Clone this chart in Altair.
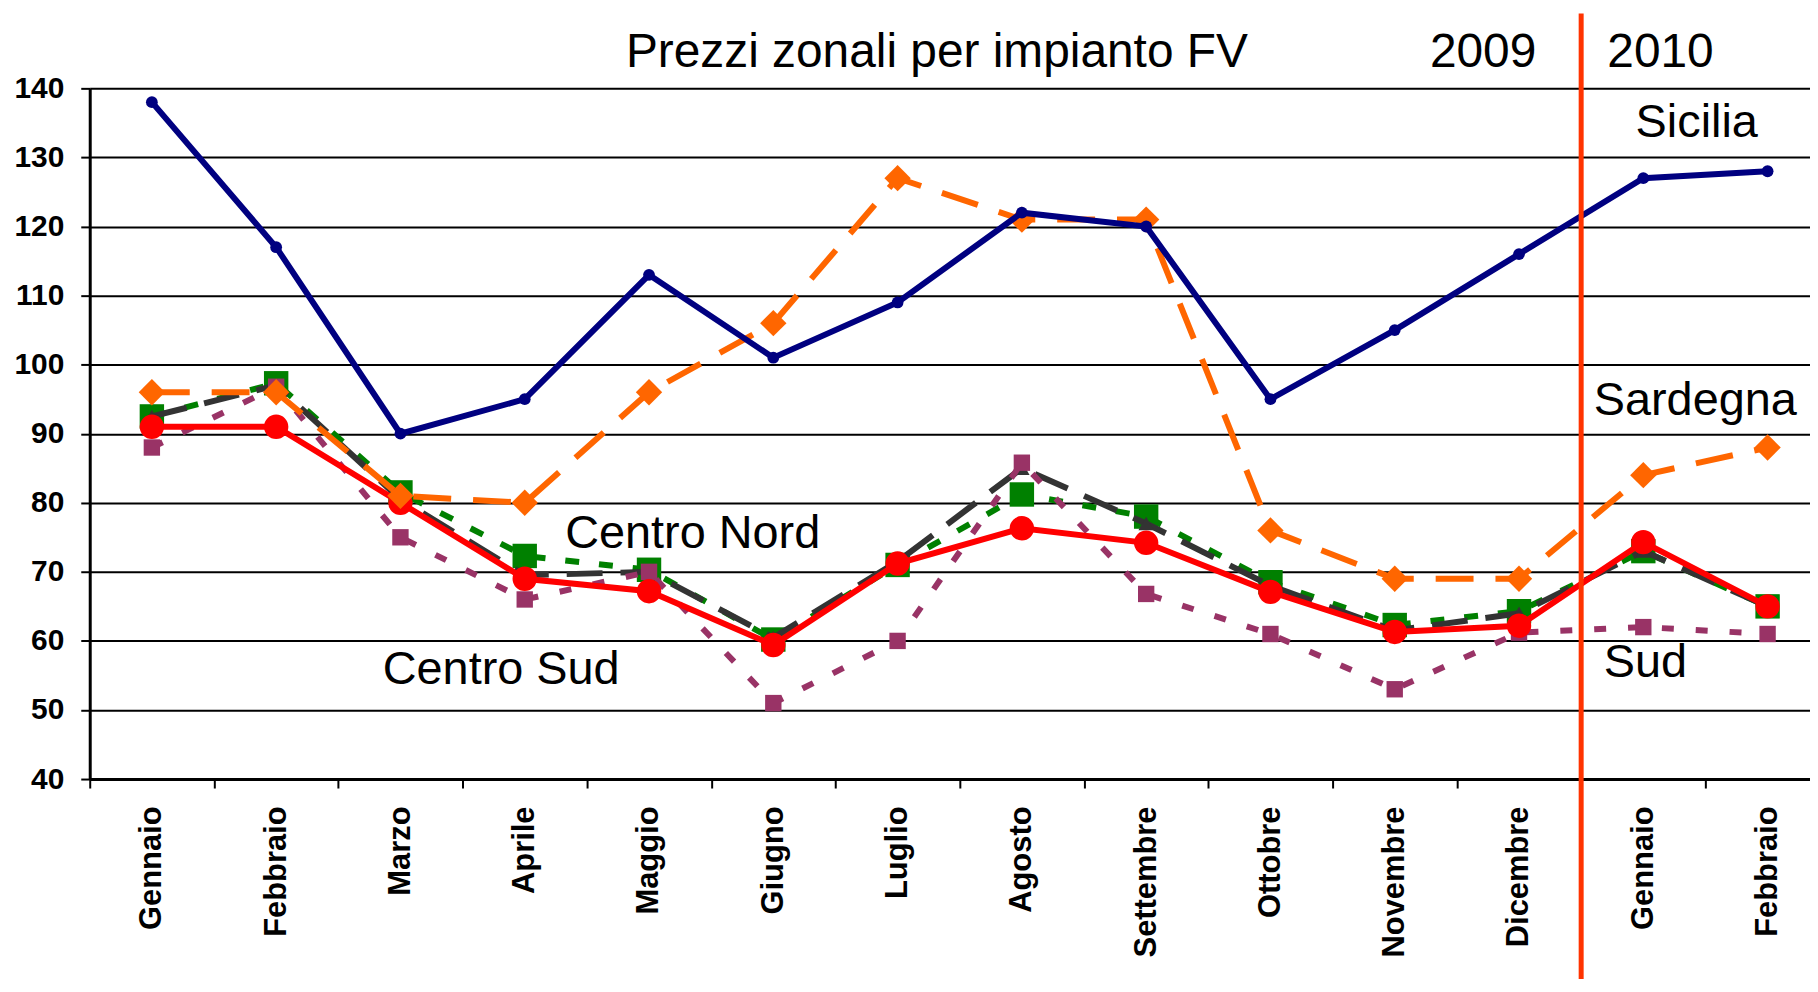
import altair as alt
import pandas as pd

# ---------------- data ----------------
months = ["Gennaio", "Febbraio", "Marzo", "Aprile", "Maggio", "Giugno", "Luglio",
          "Agosto", "Settembre", "Ottobre", "Novembre", "Dicembre", "Gennaio", "Febbraio"]
sicilia = [138, 117, 90, 95, 113, 101, 109, 122, 120, 95, 105, 116, 127, 128]
sardegna = [96, 96, 81, 80, 96, 106, 127, 121, 121, 76, 69, 69, 84, 88]
nord = [92.5, 97, 80.5, 69.5, 70, 60.5, 71.5, 85, 77, 68, 61.5, 64, 73, 65]
centro_nord = [92.5, 97.3, 81.5, 72.3, 70.3, 60.2, 71, 81.2, 78, 68.5, 62.3, 64.3, 73, 65]
sud = [88, 96.8, 75, 66, 70, 51, 60, 85.8, 66.8, 61, 53, 61.2, 62, 61]
centro_sud = [91, 91, 80, 69, 67.2, 59.4, 71.2, 76.3, 74.2, 67.1, 61.3, 62.2, 74.3, 65]
y_ticks = [40, 50, 60, 70, 80, 90, 100, 110, 120, 130, 140]
year_split = 11.5  # boundary between Dicembre 2009 and Gennaio 2010

FONT = "Liberation Sans"
W, H = 1726, 693
STEP = 124.7
x_max = -0.5 + W / STEP

xscale = alt.Scale(domain=[-0.5, x_max], nice=False, zero=False)
yscale = alt.Scale(domain=[40, 140], nice=False, zero=False)

label_expr = "[" + ",".join("'%s'" % m for m in months) + "][datum.value]"

x_axis_labels = alt.Axis(
    values=list(range(len(months))), labelExpr=label_expr, labelAngle=-90,
    labelFont=FONT, labelFontSize=31, labelFontWeight="bold", labelColor="black",
    labelPadding=27, ticks=False, tickSize=0, domain=True, domainColor="black",
    domainWidth=3, grid=False, title=None, labelFlush=False, labelOverlap=False,
    orient="bottom")
x_axis_ticks = alt.Axis(
    values=[i - 0.5 for i in range(len(months))], labels=False, ticks=True,
    tickSize=9, tickWidth=2, tickColor="black", domain=False, grid=False,
    title=None, orient="bottom")
y_axis = alt.Axis(
    values=y_ticks, format="d", labelFont=FONT, labelFontSize=30,
    labelFontWeight="bold", labelColor="black", labelPadding=17, tickSize=9,
    tickWidth=2, tickColor="black", domainColor="black", domainWidth=3,
    grid=True, gridColor="black", gridWidth=2, title=None, labelFlush=False,
    labelOverlap=False, orient="left")


def ye():
    return alt.Y("v:Q", scale=yscale, axis=y_axis)


series = [
    ("Centro Nord", centro_nord, "#008000", [14, 20], "square", 600),
    ("Nord", nord, "#333333", [36, 18], "triangle-up", 240),
    ("Sud", sud, "#993366", [12, 22], "square", 270),
    ("Centro Sud", centro_sud, "#FF0000", None, "circle", 600),
    ("Sardegna", sardegna, "#FF6600", [38, 22], "diamond", 700),
    ("Sicilia", sicilia, "#000080", None, "circle", 140),
]

# axis-carrying layers (invisible lines)
axis_df = pd.DataFrame({"idx": list(range(len(months))), "v": sicilia})
axis_layer = alt.Chart(axis_df).mark_line(opacity=0).encode(
    x=alt.X("idx:Q", scale=xscale, axis=x_axis_labels), y=ye())
tick_layer = alt.Chart(axis_df).mark_line(opacity=0).encode(
    x=alt.X("idx:Q", scale=xscale, axis=x_axis_ticks), y=ye())

layers = [axis_layer, tick_layer]
for name, vals, color, dash, shape, size in series:
    df = pd.DataFrame({"idx": list(range(len(vals))), "v": vals, "serie": name})
    xe = alt.X("idx:Q", scale=xscale, axis=None)
    line_kw = dict(color=color, strokeWidth=6)
    if dash:
        line_kw["strokeDash"] = dash
    base = alt.Chart(df)
    layers.append(base.mark_line(**line_kw).encode(x=xe, y=ye()))
    layers.append(base.mark_point(shape=shape, filled=True, size=size, color=color,
                                  opacity=1).encode(x=xe, y=ye()))

one = alt.Data(values=[{}])
split_rule = alt.Chart(one).mark_rule(color="#FF3300", strokeWidth=5).encode(
    x=alt.X(datum=year_split, type="quantitative", scale=xscale, axis=None),
    y=alt.value(-75), y2=alt.value(H + 260))


def label(text, x, y, size=47, align="left"):
    return alt.Chart(one).mark_text(
        text=text, font=FONT, fontSize=size, align=align, baseline="alphabetic",
        color="black").encode(x=alt.value(x), y=alt.value(y))


texts = [
    label("Prezzi zonali per impianto FV", 850, -21, 48, "center"),
    label("2009", 1398, -21, 48, "center"),
    label("2010", 1576, -21, 48, "center"),
    label("Sicilia", 1551, 49),
    label("Sardegna", 1509, 328),
    label("Centro Nord", 477, 461),
    label("Centro Sud", 294, 598),
    label("Sud", 1519, 591),
]

chart = alt.layer(*layers, split_rule, *texts).resolve_axis(
    x="independent"
).properties(
    width=W, height=H,
    padding={"left": 82, "top": 79, "right": 0, "bottom": 199},
    autosize=alt.AutoSizeParams(type="none"),
    background="white",
).configure_view(stroke=None)

chart.save("out.html", embed_options={"renderer": "svg", "actions": False})
